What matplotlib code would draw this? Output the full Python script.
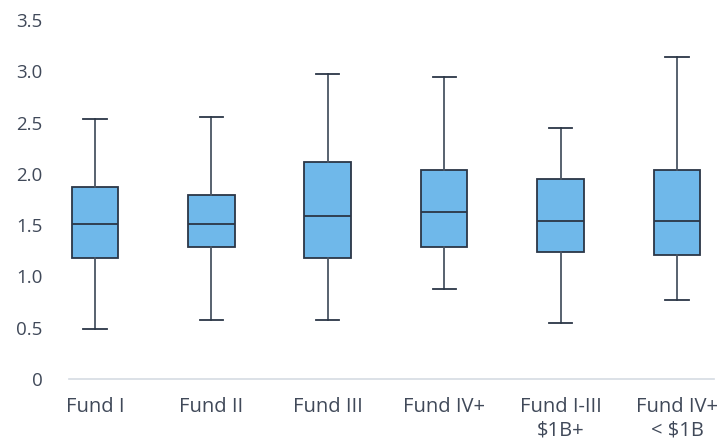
import numpy as np
import matplotlib
matplotlib.use('Agg')
import matplotlib.pyplot as plt

plt.rcParams['font.family'] = ['Open Sans', 'DejaVu Sans']

categories = ['Fund I', 'Fund II', 'Fund III', 'Fund IV+', 'Fund I-III\n$1B+', 'Fund IV+\n< $1B']
whisker_low = [0.49, 0.575, 0.575, 0.88, 0.55, 0.77]
q1 = [1.18, 1.29, 1.18, 1.29, 1.235, 1.21]
median = [1.51, 1.51, 1.59, 1.625, 1.54, 1.54]
q3 = [1.87, 1.79, 2.115, 2.035, 1.95, 2.035]
whisker_high = [2.535, 2.555, 2.97, 2.94, 2.45, 3.135]

fill_color = '#6fb8ea'
edge_color = '#2b3646'
text_color = '#404959'

stats = []
for i, name in enumerate(categories):
    stats.append({'label': name, 'whislo': whisker_low[i], 'q1': q1[i], 'med': median[i],
                  'q3': q3[i], 'whishi': whisker_high[i], 'fliers': []})

fig = plt.figure(figsize=(7.26, 4.44), dpi=100)
ax = fig.add_axes([69 / 726, 1 - 379 / 444, (714 - 69) / 726, (379 - 20) / 444])

pos = np.arange(len(categories))
ax.bxp(stats, positions=pos, widths=0.4, patch_artist=True, showfliers=False,
       boxprops=dict(facecolor=fill_color, edgecolor=edge_color, linewidth=1.3),
       medianprops=dict(color=edge_color, linewidth=1.3),
       whiskerprops=dict(color='#4a5563', linewidth=1.3),
       capprops=dict(color=edge_color, linewidth=1.3))

ax.set_xlim(-0.223, 5.318)
ax.set_ylim(0, 3.5)
ax.set_yticks([0, 0.5, 1.0, 1.5, 2.0, 2.5, 3.0, 3.5])
ax.set_yticklabels(['0', '0.5', '1.0', '1.5', '2.0', '2.5', '3.0', '3.5'])
ax.set_xticks(pos)
ax.set_xticklabels(categories, linespacing=1.22)

for s in ['top', 'right', 'left']:
    ax.spines[s].set_visible(False)
ax.spines['bottom'].set_color('#d5dbe3')
ax.spines['bottom'].set_linewidth(1.2)
ax.tick_params(axis='y', length=0, pad=19, labelsize=13.5, labelcolor=text_color)
ax.tick_params(axis='x', length=0, pad=13, labelsize=14.5, labelcolor=text_color)

fig.savefig('out.png', dpi=100)
